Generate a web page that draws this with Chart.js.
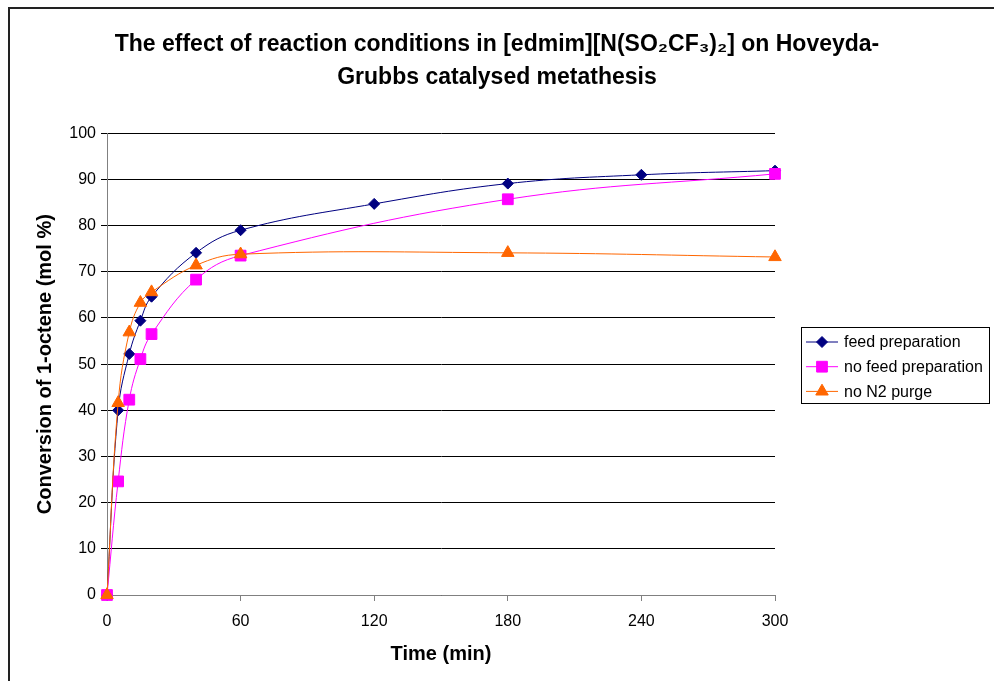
<!DOCTYPE html>
<html>
<head>
<meta charset="utf-8">
<title>Hoveyda-Grubbs metathesis</title>
<script src="https://cdn.jsdelivr.net/npm/chart.js@4/dist/chart.umd.min.js"></script>
<style>
  html, body { margin: 0; padding: 0; background: #fff; }
  #wrap { width: 994px; height: 681px; }
</style>
</head>
<body>
<div id="wrap"><canvas id="chart" width="994" height="681"></canvas></div>
<script>
// sampling times (min) and conversion (mol %)
const timesFeed = [0, 5, 10, 15, 20, 40, 60, 120, 180, 240, 300];
const feedPreparation = [0, 40.0, 52.2, 59.4, 64.6, 74.1, 79.0, 84.7, 89.1, 91.0, 91.9];

const timesNoFeed = [0, 5, 10, 15, 20, 40, 60, 180, 300];
const noFeedPreparation = [0, 24.6, 42.3, 51.1, 56.5, 68.3, 73.5, 85.7, 91.2];

const timesNoPurge = [0, 5, 10, 15, 20, 40, 60, 180, 300];
const noN2Purge = [0, 41.6, 56.9, 63.3, 65.6, 71.4, 73.8, 74.1, 73.2];

const seriesNames = ['feed preparation', 'no feed preparation', 'no N2 purge'];
const xTicks = [0, 60, 120, 180, 240, 300];

const FONT = "'Liberation Sans', Arial, Helvetica, sans-serif";

function pairs(xs, ys) {
  return xs.map((x, i) => ({ x: x, y: ys[i] }));
}

// outer frame (top and left edges only)
const frame = {
  id: 'frame',
  beforeDraw(chart) {
    const ctx = chart.ctx;
    ctx.save();
    ctx.fillStyle = '#fff';
    ctx.fillRect(0, 0, chart.width, chart.height);
    ctx.strokeStyle = '#222';
    ctx.lineWidth = 2;
    ctx.beginPath();
    ctx.moveTo(9, chart.height);
    ctx.lineTo(9, 8);
    ctx.lineTo(chart.width, 8);
    ctx.stroke();
    ctx.restore();
  }
};

// boxed legend with line + marker samples
const legendBox = {
  id: 'legendBox',
  afterDraw(chart) {
    const ctx = chart.ctx;
    ctx.save();
    ctx.strokeStyle = '#000';
    ctx.lineWidth = 1;
    ctx.strokeRect(801.5, 327.5, 188, 76);
    ctx.font = '16px ' + FONT;
    ctx.textBaseline = 'middle';
    chart.data.datasets.forEach((ds, i) => {
      const y = 342 + i * 24.7;
      ctx.strokeStyle = ds.borderColor;
      ctx.lineWidth = 1;
      ctx.beginPath();
      ctx.moveTo(806, y);
      ctx.lineTo(838, y);
      ctx.stroke();
      ctx.fillStyle = ds.pointBackgroundColor;
      ctx.strokeStyle = ds.pointBorderColor;
      Chart.helpers.drawPoint(ctx, {
        pointStyle: ds.pointStyle,
        radius: ds.pointRadius,
        borderWidth: 1,
        rotation: 0
      }, 822, y);
      ctx.fillStyle = '#000';
      ctx.fillText(ds.label, 844, y + 1);
    });
    ctx.restore();
  }
};

const ctx = document.getElementById('chart').getContext('2d');

new Chart(ctx, {
  type: 'line',
  data: {
    datasets: [{
      label: seriesNames[0],
      data: pairs(timesFeed, feedPreparation),
      borderColor: '#000080',
      backgroundColor: '#000080',
      pointBackgroundColor: '#000080',
      pointBorderColor: '#000080',
      pointStyle: 'rectRot',
      pointRadius: 5.5,
      borderWidth: 1,
      tension: 0.4,
      clip: false,
      order: 3
    }, {
      label: seriesNames[1],
      data: pairs(timesNoFeed, noFeedPreparation),
      borderColor: '#FF00FF',
      backgroundColor: '#FF00FF',
      pointBackgroundColor: '#FF00FF',
      pointBorderColor: '#FF00FF',
      pointStyle: 'rect',
      pointRadius: 7.6,
      borderWidth: 1,
      tension: 0.4,
      clip: false,
      order: 2
    }, {
      label: seriesNames[2],
      data: pairs(timesNoPurge, noN2Purge),
      borderColor: '#FF6600',
      backgroundColor: '#FF6600',
      pointBackgroundColor: '#FF6600',
      pointBorderColor: '#FF6600',
      pointStyle: 'triangle',
      pointRadius: 7.2,
      borderWidth: 1,
      tension: 0.4,
      clip: false,
      order: 1
    }]
  },
  options: {
    responsive: false,
    animation: false,
    layout: { padding: 0 },
    plugins: {
      legend: { display: false },
      tooltip: { enabled: false },
      title: {
        display: true,
        text: ['The effect of reaction conditions in [edmim][N(SO\u2082CF\u2083)\u2082] on Hoveyda-',
               'Grubbs catalysed metathesis'],
        color: '#000',
        font: { family: FONT, size: 23, weight: 'bold', lineHeight: 1.44 },
        padding: { top: 28, bottom: 39 }
      }
    },
    scales: {
      x: {
        type: 'linear',
        min: 0,
        max: 300,
        afterFit(scale) { scale.height = 86; },
        afterBuildTicks(scale) { scale.ticks = xTicks.map(v => ({ value: v })); },
        grid: { drawOnChartArea: false, drawTicks: true, tickLength: 6, color: '#808080' },
        border: { color: '#808080', width: 1 },
        ticks: { color: '#000', padding: 11, maxRotation: 0, font: { family: FONT, size: 16 } },
        title: {
          display: true,
          text: 'Time (min)',
          color: '#000',
          font: { family: FONT, size: 20, weight: 'bold' },
          padding: { top: 0, bottom: 15 }
        }
      },
      y: {
        min: 0,
        max: 100,
        afterFit(scale) { scale.width = 107; },
        grid: { color: '#000', tickLength: 6, lineWidth: 1 },
        border: { color: '#808080', width: 1 },
        ticks: { stepSize: 10, color: '#000', padding: 5, font: { family: FONT, size: 16 } },
        title: {
          display: true,
          text: 'Conversion of 1-octene (mol %)',
          color: '#000',
          font: { family: FONT, size: 20, weight: 'bold' },
          padding: { top: 33, bottom: 0 }
        }
      },
      // empty right-hand axis that keeps room for the legend box
      legendSpace: {
        type: 'linear',
        position: 'right',
        afterFit(scale) { scale.width = 219; },
        grid: { display: false, drawTicks: false },
        border: { display: false },
        ticks: { display: false }
      }
    }
  },
  plugins: [frame, legendBox]
});
</script>
</body>
</html>
